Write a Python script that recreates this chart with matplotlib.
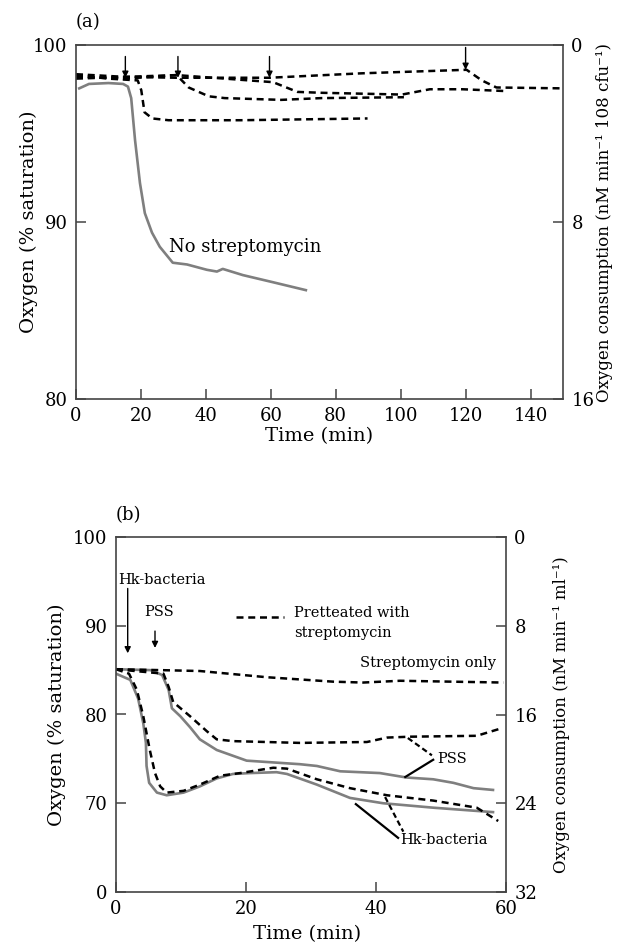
import matplotlib
matplotlib.use("Agg")
import matplotlib.pyplot as plt

plt.rcParams["font.family"] = ["DejaVu Serif"]

# ── Panel (a) data: time (min), oxygen (% saturation) ────────────────────────
a_nostrep_t = [1, 4, 10, 14.5, 16, 17, 18.2, 19.7, 21.2, 23.4, 25.8, 29.8, 34.2,
               40.3, 43.4, 45.2, 51.4, 60.6, 70.8]
a_nostrep_o2 = [97.55, 97.8, 97.85, 97.8, 97.65, 97.0, 94.6, 92.2, 90.5, 89.4, 88.6,
                87.7, 87.6, 87.3, 87.2, 87.35, 87.0, 86.6, 86.15]

a_strep15_t = [0, 10, 19, 20.1, 21.1, 23.5, 28.5, 50.8, 89.8]
a_strep15_o2 = [98.3, 98.1, 98.0, 97.45, 96.2, 95.85, 95.75, 95.75, 95.85]

a_strep30_t = [0, 15, 31, 34.7, 40.9, 45.8, 63.2, 75.6, 101]
a_strep30_o2 = [98.2, 98.1, 98.3, 97.6, 97.1, 97.0, 96.9, 97.0, 97.05]

a_strep60_t = [0, 31, 60.7, 68.2, 75.6, 100.4, 109, 119, 132]
a_strep60_o2 = [98.1, 98.3, 97.9, 97.35, 97.3, 97.2, 97.5, 97.5, 97.4]

a_strep120_t = [0, 15, 31, 59.6, 88, 120.3, 125, 129.5, 150]
a_strep120_o2 = [98.35, 98.2, 98.15, 98.15, 98.4, 98.6, 98.0, 97.6, 97.55]

a_arrow_t = [15.2, 31.4, 59.6, 120.0]
a_arrow_tail = [99.35, 99.35, 99.35, 99.86]
a_arrow_tip = [98.15, 98.15, 98.15, 98.6]

# ── Panel (b) data: time (min), oxygen (% saturation) ────────────────────────
b_stronly_t = [0, 6.8, 12.9, 23.2, 33.4, 38, 43.7, 59.6]
b_stronly_o2 = [85.1, 85.0, 84.9, 84.2, 83.7, 83.6, 83.8, 83.6]

b_pss_t = [0, 5.3, 7.1, 8.1, 8.6, 9.9, 11.4, 12.9, 15.5, 20.1, 28.3, 30.9, 34.5,
           40.6, 44.7, 48.8, 51.9, 55, 58]
b_pss_o2 = [85.1, 85.0, 84.45, 82.76, 80.7, 79.8, 78.56, 77.2, 76.0, 74.8, 74.4,
            74.2, 73.6, 73.4, 72.9, 72.7, 72.3, 71.7, 71.5]

b_pss_pre_t = [0, 7.3, 8.1, 8.8, 11.4, 14, 15.5, 18, 28.3, 38.6, 41.7, 45.3, 55.5, 59.1]
b_pss_pre_o2 = [85.1, 84.6, 83.1, 81.4, 79.8, 78.1, 77.2, 77.0, 76.8, 76.9, 77.4,
                77.5, 77.6, 78.4]

b_hk_t = [0, 2.2, 3.4, 4.2, 4.6, 4.7, 5.1, 6.3, 7.8, 10.4, 12.9, 15.5, 18, 20.6,
          24.7, 26.3, 30.9, 36, 41.1, 48.8, 58]
b_hk_o2 = [84.6, 83.9, 81.8, 79.0, 76.8, 74.2, 72.3, 71.2, 70.9, 71.2, 71.9, 72.8,
           73.3, 73.4, 73.5, 73.3, 72.1, 70.6, 70.0, 69.5, 69.0]

b_hk_pre_t = [0, 2.0, 3.2, 4.2, 5.2, 6, 6.8, 7.8, 10.4, 12.9, 16, 19.1, 24.2, 26.3,
              30.9, 36, 41.7, 48.8, 55.5, 58.8]
b_hk_pre_o2 = [85.1, 84.6, 82.8, 79.8, 76.0, 73.4, 71.9, 71.2, 71.4, 72.1, 73.1,
               73.4, 74.0, 73.9, 72.7, 71.7, 70.9, 70.3, 69.5, 68.0]

GREY = "#7f7f7f"
SPINE = "#444444"
DASH = (0, (2.8, 1.9))
ARROW = dict(arrowstyle="-|>", color="black", lw=1.0, mutation_scale=9,
             shrinkA=0, shrinkB=0)


def style_axes(ax, twin):
    for s in ax.spines.values():
        s.set_color(SPINE)
        s.set_linewidth(1.2)
    for s in twin.spines.values():
        s.set_visible(False)
    ax.tick_params(direction="in", length=7, width=1.1, color=SPINE,
                   labelsize=13, top=False, right=False, pad=6)
    twin.tick_params(direction="in", length=7, width=1.1, color=SPINE,
                     labelsize=13, pad=6)


fig = plt.figure(figsize=(6.28, 9.47), dpi=100)

# ── Panel (a) ────────────────────────────────────────────────────────────────
ax = fig.add_axes([76 / 628, 1 - 399 / 947, 487 / 628, 354 / 947])
tw = ax.twinx()
style_axes(ax, tw)

ax.plot(a_nostrep_t, a_nostrep_o2, color=GREY, lw=1.9)
for t, o in [(a_strep15_t, a_strep15_o2), (a_strep30_t, a_strep30_o2),
             (a_strep60_t, a_strep60_o2), (a_strep120_t, a_strep120_o2)]:
    ax.plot(t, o, color="black", lw=1.8, linestyle=DASH)
for t, tail, tip in zip(a_arrow_t, a_arrow_tail, a_arrow_tip):
    ax.annotate("", xy=(t, tip), xytext=(t, tail), arrowprops=ARROW)
ax.text(28.6, 88.6, "No streptomycin", fontsize=13, va="center", ha="left")

ax.set_xlim(0, 150)
ax.set_ylim(80, 100)
ax.set_xticks([0, 20, 40, 60, 80, 100, 120, 140])
ax.set_yticks([80, 90, 100])
tw.set_ylim(16, 0)
tw.set_yticks([0, 8, 16])
ax.set_xlabel("Time (min)", fontsize=14)
ax.set_ylabel("Oxygen (% saturation)", fontsize=14)
tw.set_ylabel("Oxygen consumption (nM min\u207b\u00b9 108 cfu\u207b\u00b9)", fontsize=12)
ax.xaxis.set_label_coords(0.5, -0.078)
ax.yaxis.set_label_coords(-0.078, 0.5)
tw.yaxis.set_label_coords(1.068, 0.5)
ax.text(0.0, 1.065, "(a)", transform=ax.transAxes, fontsize=13, va="center", ha="left")

# ── Panel (b) ────────────────────────────────────────────────────────────────
bx = fig.add_axes([116 / 628, 1 - 892 / 947, 390 / 628, 355 / 947])
tw2 = bx.twinx()
style_axes(bx, tw2)

bx.plot(b_pss_t, b_pss_o2, color=GREY, lw=1.9)
bx.plot(b_hk_t, b_hk_o2, color=GREY, lw=1.9)
bx.plot(b_stronly_t, b_stronly_o2, color="black", lw=1.8, linestyle=DASH)
bx.plot(b_pss_pre_t, b_pss_pre_o2, color="black", lw=1.8, linestyle=DASH)
bx.plot(b_hk_pre_t, b_hk_pre_o2, color="black", lw=1.8, linestyle=DASH)

# addition arrows
bx.annotate("", xy=(1.8, 86.9), xytext=(1.8, 94.2), arrowprops=ARROW)
bx.annotate("", xy=(6.0, 87.5), xytext=(6.0, 89.4), arrowprops=ARROW)
bx.text(0.4, 95.2, "Hk-bacteria", fontsize=10.5, va="center", ha="left")
bx.text(4.4, 91.5, "PSS", fontsize=10.5, va="center", ha="left")

# key
bx.plot([18.5, 25.8], [91.0, 91.0], color="black", lw=1.8, linestyle=DASH)
bx.text(27.4, 91.4, "Pretteated with", fontsize=10.5, va="center", ha="left")
bx.text(27.4, 89.2, "streptomycin", fontsize=10.5, va="center", ha="left")
bx.text(58.5, 85.8, "Streptomycin only", fontsize=10.5, va="center", ha="right")

# leader lines
bx.plot([44.9, 48.6], [77.35, 75.4], color="black", lw=1.6, linestyle=(0, (2.5, 1.5)))
bx.plot([44.5, 48.8], [72.96, 74.9], color="black", lw=1.6)
bx.text(49.4, 75.0, "PSS", fontsize=10.5, va="center", ha="left")
bx.plot([36.9, 43.4], [69.9, 66.1], color="black", lw=1.6)
bx.plot([41.4, 44.2], [70.7, 66.8], color="black", lw=1.6, linestyle=(0, (2.5, 1.5)))
bx.text(43.8, 65.9, "Hk-bacteria", fontsize=10.5, va="center", ha="left")

bx.set_xlim(0, 60)
bx.set_ylim(60, 100)
bx.set_xticks([0, 20, 40, 60])
bx.set_yticks([60, 70, 80, 90, 100])
bx.set_yticklabels(["0", "70", "80", "90", "100"])
tw2.set_ylim(32, 0)
tw2.set_yticks([0, 8, 16, 24, 32])
bx.set_xlabel("Time (min)", fontsize=14)
bx.set_ylabel("Oxygen (% saturation)", fontsize=14)
tw2.set_ylabel("Oxygen consumption (nM min\u207b\u00b9 ml\u207b\u00b9)", fontsize=12)
bx.xaxis.set_label_coords(0.49, -0.094)
bx.yaxis.set_label_coords(-0.128, 0.5)
tw2.yaxis.set_label_coords(1.12, 0.5)
bx.text(0.0, 1.062, "(b)", transform=bx.transAxes, fontsize=13, va="center", ha="left")

plt.savefig("out.png", dpi=100)
plt.close()
print("Saved: out.png")
